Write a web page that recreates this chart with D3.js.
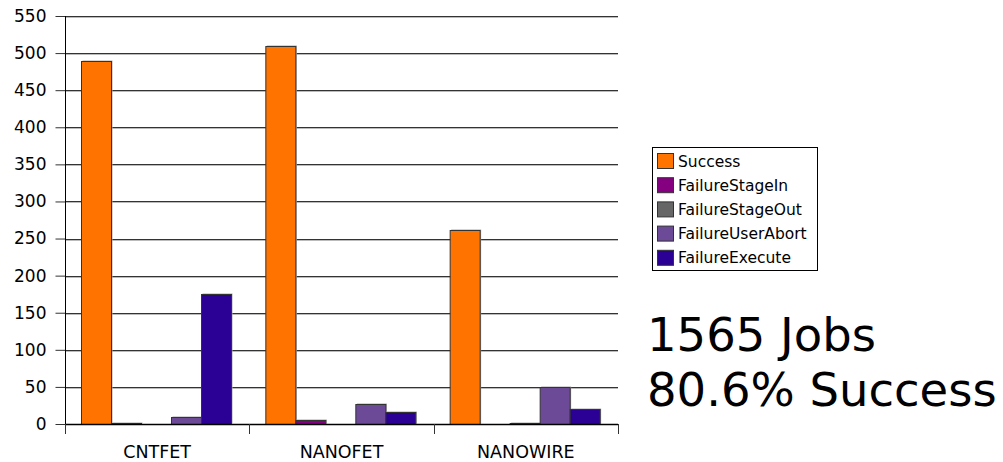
<!DOCTYPE html>
<html lang="en">
<head>
    <meta charset="UTF-8">
    <title>Jobs by Application</title>
    <script src="https://d3js.org/d3.v7.min.js"></script>
    <style>
        html, body { margin: 0; padding: 0; background: #fff; overflow: hidden; }
        text { font-family: "DejaVu Sans", sans-serif; fill: #000; }
    </style>
</head>
<body>
    <svg id="chart" width="1003" height="462"></svg>
    <script>
        // data
        const categories = ["CNTFET", "NANOFET", "NANOWIRE"];
        const seriesNames = ["Success", "FailureStageIn", "FailureStageOut", "FailureUserAbort", "FailureExecute"];
        const seriesColors = ["#ff7300", "#850080", "#666666", "#6c4a98", "#2b0095"];
        const success = [490, 510, 261];
        const stageIn = [1, 6, 0];
        const stageOut = [0, 0, 2];
        const userAbort = [9, 27, 50];
        const execute = [175, 16, 20];
        const yTicks = [0, 50, 100, 150, 200, 250, 300, 350, 400, 450, 500, 550];
        const summary = ["1565 Jobs", "80.6% Success"];

        const values = [success, stageIn, stageOut, userAbort, execute];

        const svg = d3.select("#chart");
        const margin = {left: 65, top: 16, right: 385, bottom: 38};
        const width = 1003 - margin.left - margin.right,
              height = 462 - margin.top - margin.bottom;
        const g = svg.append("g").attr("transform", `translate(${margin.left},${margin.top})`);

        const x0 = d3.scaleBand().domain(categories).range([0, width]);
        const x1 = d3.scaleBand().domain(seriesNames).range([-1, x0.bandwidth() - 1]).paddingOuter(0.55);
        const y = d3.scaleLinear().domain([0, 550]).range([height, 0]);

        // gridlines
        g.selectAll(".grid-shadow").data(yTicks.slice(1)).enter().append("line")
            .attr("x1", 0).attr("x2", width)
            .attr("y1", d => Math.round(y(d)) + 1.5).attr("y2", d => Math.round(y(d)) + 1.5)
            .attr("stroke", "#bbb").attr("stroke-width", 1);
        g.selectAll(".grid").data(yTicks.slice(1)).enter().append("line")
            .attr("x1", 0).attr("x2", width)
            .attr("y1", d => Math.round(y(d)) + 0.5).attr("y2", d => Math.round(y(d)) + 0.5)
            .attr("stroke", "#333").attr("stroke-width", 1);

        // bars
        const groups = g.selectAll(".cat").data(categories).enter().append("g")
            .attr("transform", d => `translate(${x0(d)},0)`);
        groups.each(function(cat, ci) {
            const grp = d3.select(this);
            seriesNames.forEach((s, si) => {
                const v = values[si][ci];
                const bx = Math.round(x1(s)) + 0.5, bw = Math.round(x1.bandwidth());
                const by = Math.round(y(v)) + 0.5, bh = Math.max(0, Math.round(height - y(v)));
                grp.append("rect")
                    .attr("x", bx + 1).attr("y", by - 1)
                    .attr("width", bw).attr("height", bh)
                    .attr("fill", "#aaa");
                grp.append("rect")
                    .attr("x", bx).attr("y", by)
                    .attr("width", bw).attr("height", bh)
                    .attr("fill", seriesColors[si])
                    .attr("stroke", "#333").attr("stroke-width", 1);
            });
        });

        // y axis
        const yAxis = g.append("g").attr("transform", "translate(0.5,0)")
            .call(d3.axisLeft(y).tickValues(yTicks).tickSize(10).tickPadding(9));
        yAxis.select(".domain").remove();
        yAxis.selectAll(".tick line").attr("stroke", "#333");
        yAxis.selectAll("text").attr("font-size", 17).attr("font-family", "DejaVu Sans");
        g.append("line").attr("x1", 0.5).attr("x2", 0.5).attr("y1", 0).attr("y2", height + 10)
            .attr("stroke", "#000");

        // x axis
        g.append("line").attr("x1", 0).attr("x2", width)
            .attr("y1", height + 0.5).attr("y2", height + 0.5).attr("stroke", "#000").attr("stroke-width", 1.5);
        const xBounds = [0].concat(categories.map(c => x0(c) + x0.bandwidth()));
        g.selectAll(".xtick").data(xBounds).enter().append("line")
            .attr("x1", d => Math.round(d) + 0.5).attr("x2", d => Math.round(d) + 0.5)
            .attr("y1", height).attr("y2", height + 10)
            .attr("stroke", "#333");
        g.selectAll(".xlabel").data(categories).enter().append("text")
            .attr("x", d => x0(d) + x0.bandwidth() / 2)
            .attr("y", height + 34)
            .attr("text-anchor", "middle")
            .attr("font-size", 17.5)
            .text(d => d);

        // legend
        const legend = svg.append("g").attr("transform", "translate(652,147)");
        legend.append("rect").attr("x", 0.5).attr("y", 0.5).attr("width", 165).attr("height", 123)
            .attr("fill", "#fff").attr("stroke", "#000");
        seriesNames.forEach((s, i) => {
            const row = legend.append("g").attr("transform", `translate(5,${6 + i * 24.2})`);
            row.append("rect").attr("x", 0.5).attr("y", 0.5).attr("width", 16).attr("height", 15)
                .attr("fill", seriesColors[i]).attr("stroke", "#333");
            row.append("text").attr("x", 21).attr("y", 13.5).attr("font-size", 15.5).text(s);
        });

        // summary text
        svg.selectAll(".summary").data(summary).enter().append("text")
            .attr("x", 647)
            .attr("y", (d, i) => 351 + i * 55)
            .attr("font-size", 46.5)
            .text(d => d);
    </script>
</body>
</html>
